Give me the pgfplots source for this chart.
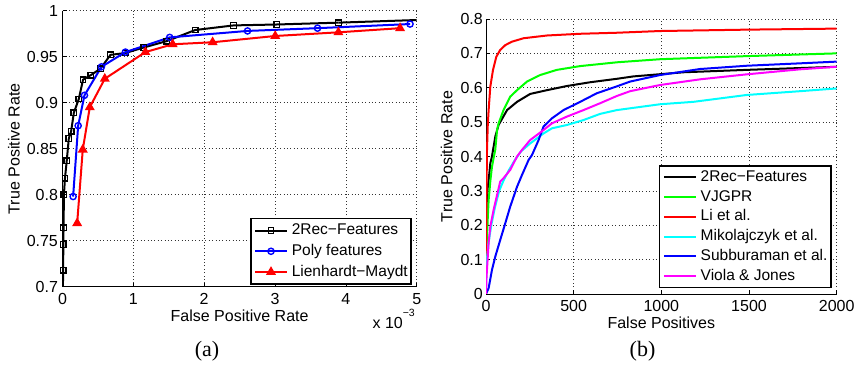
\documentclass[border=0pt]{standalone}
\usepackage{fontspec}
\setmainfont{Liberation Sans}
\newfontfamily\seriffont{Liberation Serif}
\usepackage{pgfplots}
\pgfplotsset{compat=1.18}
\definecolor{mgreen}{rgb}{0,1,0}
\definecolor{mcyan}{rgb}{0,1,1}
\definecolor{mmag}{rgb}{1,0,1}
\pgfplotsset{
  mystyle/.style={
    scale only axis,
    anchor=south west,
    axis x line*=bottom, axis y line*=left,
    axis line style={black, line width=0.9pt, -},
    tick align=inside,
    major tick length=4pt,
    tick style={black, line width=0.7pt},
    grid=major,
    major grid style={black!80, line width=0.7pt, dash pattern=on 0.9pt off 2.5pt},
    ticklabel style={font=\fontsize{16}{19}\selectfont, inner sep=0pt},
    label style={font=\fontsize{16}{19}\selectfont},
    xticklabel style={anchor=north, yshift=-6.5pt},
    legend cell align=left,
    legend image code/.code={\draw[mark repeat=2,mark phase=2] plot coordinates {(0pt,0pt) (15.8pt,0pt) (31.6pt,0pt)};},
  },
  mylegend/.style={
    legend style={at={(axis description cs:1,0)}, anchor=south east,
      draw=black, line width=1.6pt, fill=white,
      font=\fontsize{15.5}{18}\selectfont,
      inner xsep=3.5pt, inner ysep=#1,
      column sep=4pt,
      nodes={inner sep=0pt, text height=11.5pt, text depth=3.3pt}},
  },
}
\begin{document}
\begin{tikzpicture}[x=1pt,y=1pt]
\path[use as bounding box] (0,0) rectangle (856,366);

% ---------- (a) ----------
\begin{axis}[mystyle, mylegend=4.8pt,
  at={(62.5pt,79.3pt)}, width=354.2pt, height=276pt,
  xmin=0, xmax=5, ymin=0.7, ymax=1,
  xtick={0,1,2,3,4,5}, xticklabels={0,1,2,3,4,5},
  ytick={0.7,0.75,0.8,0.85,0.9,0.95,1},
  yticklabels={0.7,0.75,0.8,0.85,0.9,0.95,1},
  yticklabel style={anchor=east, xshift=-4.4pt},
  xlabel={False Positive Rate}, ylabel={True Positive Rate},
  xlabel style={at={(axis description cs:0.5,-0.105)}, anchor=center},
  ylabel style={at={(axis description cs:-0.137,0.5)}, anchor=center},
  legend style={xshift=-4.7pt, yshift=1.7pt, row sep=5.9pt},
]
\addplot[black, line width=2pt, mark=square, mark size=2.8pt,
  mark options={solid, line width=1.3pt, fill=none}]
coordinates {
(0.010,0.718) (0.011,0.746) (0.015,0.764) (0.020,0.800)
(0.035,0.818) (0.060,0.837) (0.089,0.861) (0.122,0.869) (0.160,0.889)
(0.230,0.904) (0.290,0.925) (0.400,0.930) (0.536,0.937) (0.677,0.952)
(0.888,0.954) (1.146,0.960) (1.474,0.967) (1.874,0.979) (2.415,0.984)
(3.026,0.985) (3.895,0.987)
};
\addlegendentry{2Rec−Features}
\addplot[blue, line width=2pt, mark=o, mark size=3.1pt,
  mark options={solid, line width=1.4pt, fill=none}]
coordinates {
(0.150,0.798) (0.221,0.875) (0.310,0.908) (0.550,0.939) (0.888,0.955)
(1.513,0.971) (2.612,0.978) (3.600,0.981) (4.906,0.9855)
};
\addlegendentry{Poly features}
\addplot[red, line width=2pt, mark=triangle*, mark size=3.8pt,
  mark options={solid, fill=red}]
coordinates {
(0.207,0.769) (0.286,0.849) (0.385,0.895) (0.597,0.926) (1.170,0.955)
(1.555,0.9635) (2.119,0.9657) (3.003,0.9725) (3.895,0.9765) (4.765,0.981)
};
\addlegendentry{Lienhardt−Maydt}
\addplot[black, line width=2pt, forget plot] coordinates {(0.003,0.690) (0.010,0.718)};
\addplot[black, line width=2pt, forget plot] coordinates {(3.895,0.987) (5.050,0.990)};
\end{axis}

% ---------- (b) ----------
\begin{axis}[mystyle, mylegend=4.1pt,
  at={(486pt,72pt)}, width=350.7pt, height=275pt,
  xmin=0, xmax=2000, ymin=0, ymax=0.8,
  xtick={0,500,1000,1500,2000}, xticklabels={0,500,1000,1500,2000},
  ytick={0,0.1,0.2,0.3,0.4,0.5,0.6,0.7,0.8},
  yticklabels={0,0.1,0.2,0.3,0.4,0.5,0.6,0.7,0.8},
  yticklabel style={anchor=east, xshift=-3pt},
  xlabel={False Positives}, ylabel={True Positive Rate},
  xlabel style={at={(axis description cs:0.5,-0.1036)}, anchor=center},
  ylabel style={at={(axis description cs:-0.112,0.5)}, anchor=center},
  legend style={xshift=-5pt, yshift=5.7pt, row sep=4.9pt},
]
\addplot[black, line width=2pt] coordinates {
(0,0.20) (5,0.28) (10,0.31) (15,0.33) (24.5,0.38) (34,0.40) (53,0.458)
(72,0.492) (120,0.535) (177,0.559) (252,0.582) (348,0.593) (461,0.605)
(594,0.616) (746,0.626) (841,0.633) (1126,0.645) (1487,0.652) (1829,0.658)
(2000,0.661)
};
\addlegendentry{2Rec−Features}
\addplot[mgreen, line width=2pt] coordinates {
(0,0.08) (3,0.13) (6,0.17) (10,0.22) (15,0.273) (25,0.33) (34,0.37)
(45,0.40) (53,0.42) (63,0.477) (72,0.4965) (100,0.535) (138,0.574)
(177,0.593) (234,0.618) (309,0.637) (404,0.652) (537,0.663) (746,0.674)
(993,0.683) (1487,0.692) (2000,0.700)
};
\addlegendentry{VJGPR}
\addplot[red, line width=2pt] coordinates {
(0,0.08) (2,0.25) (4,0.35) (5.7,0.42) (10,0.49) (15,0.535) (24.5,0.603)
(40,0.652) (58.7,0.690) (81,0.710) (110,0.724) (148,0.734) (214,0.744)
(348,0.752) (537,0.757) (746,0.760) (993,0.765) (1487,0.769) (2000,0.772)
};
\addlegendentry{Li et al.}
\addplot[mcyan, line width=2pt] coordinates {
(0,0.02) (5,0.10) (15,0.15) (30,0.20) (50,0.25) (75,0.30) (100,0.33)
(130,0.36) (165,0.39) (200,0.415) (252,0.438) (328,0.467) (376,0.482)
(461,0.4916) (556,0.506) (651,0.524) (746,0.535) (993,0.552) (1183,0.559)
(1487,0.579) (1791,0.590) (2000,0.598)
};
\addlegendentry{Mikolajczyk et al.}
\addplot[blue, line width=2pt] coordinates {
(0,0) (15,0.017) (34,0.07) (53,0.109) (81,0.157) (110,0.206) (138,0.254)
(177,0.312) (205,0.346) (243,0.39) (262,0.404) (300,0.448) (328,0.487)
(376,0.511) (442,0.535) (537,0.559) (632,0.584) (746,0.604) (822,0.618)
(993,0.637) (1221,0.6545) (1487,0.664) (1791,0.671) (2000,0.676)
};
\addlegendentry{Subburaman et al.}
\addplot[mmag, line width=2pt] coordinates {
(0,0) (3,0.05) (9,0.099) (15,0.15) (24.5,0.196) (43,0.244) (81,0.327)
(100,0.337) (138,0.361) (177,0.40) (205,0.419) (252,0.448) (328,0.477)
(376,0.4965) (461,0.516) (556,0.535) (651,0.555) (746,0.576) (822,0.590)
(993,0.608) (1221,0.6245) (1487,0.639) (1791,0.6536) (2000,0.661)
};
\addlegendentry{Viola \& Jones}
\end{axis}

\node[anchor=base east, inner sep=0pt, font=\fontsize{16}{19}\selectfont]
  at (415,37.7) {x 10\raisebox{11.6pt}{\fontsize{10.5}{12}\selectfont −3}};
\node[anchor=base, inner sep=0pt, font=\seriffont\fontsize{22}{24}\selectfont]
  at (207,9) {(a)};
\node[anchor=base, inner sep=0pt, font=\seriffont\fontsize{22}{24}\selectfont]
  at (642.5,9) {(b)};
\end{tikzpicture}
\end{document}
